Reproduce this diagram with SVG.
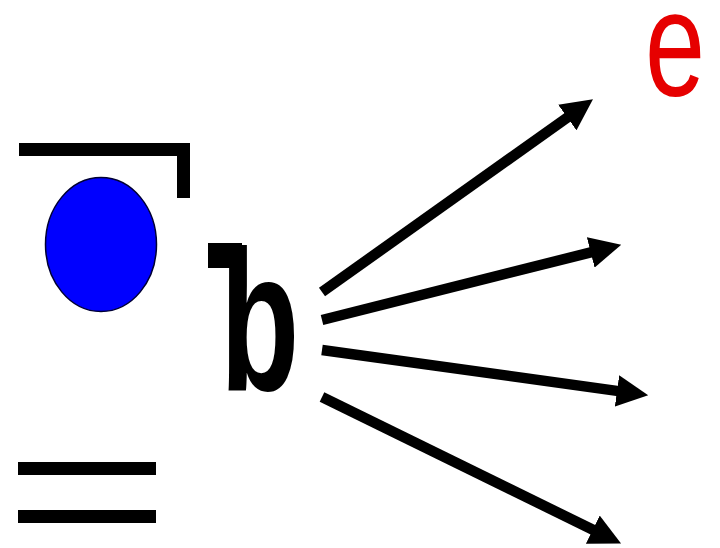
<svg xmlns="http://www.w3.org/2000/svg" width="720" height="548" viewBox="0 0 720 548">
<style>
.bar{stroke:#000;stroke-width:13;fill:none}
.arr{stroke:#000;stroke-width:10.5;fill:none;marker-end:url(#head)}
.glyph{font-family:"Liberation Sans",Arial,sans-serif}
</style>
<defs>
<marker id="head" markerUnits="strokeWidth" markerWidth="3" markerHeight="3" refX="0.5" refY="1.5" orient="auto" viewBox="0 0 3 3">
<path d="M0,0 L3,1.5 L0,3 z" fill="#000"/>
</marker>
</defs>
<rect width="720" height="548" fill="#fff"/>
<g id="bracket">
<path class="bar" d="M19,149.5 H183.5 V198" stroke-width="14"/>
</g>
<g id="ball">
<ellipse cx="101" cy="244.5" rx="55.5" ry="67" fill="#0000ff" stroke="#000033" stroke-width="1.5"/>
</g>
<g id="bars">
<line class="bar" x1="18" y1="468.5" x2="156" y2="468.5"/>
<line class="bar" x1="18" y1="516.5" x2="156" y2="516.5"/>
</g>
<g id="b-node">
<rect x="208" y="243" width="34" height="25" fill="#000"/>
<text class="glyph" transform="translate(220,390) scale(0.65,1)" font-size="200" font-weight="bold" fill="#000">b</text>
</g>
<g id="e-node">
<text class="glyph" transform="translate(645,96) scale(0.72,1)" font-size="150" fill="#e60000">e</text>
</g>
<g id="connectors">
<line class="arr" x1="322" y1="292" x2="571.6" y2="114.5"/>
<line class="arr" x1="322" y1="320" x2="595.8" y2="251.1"/>
<line class="arr" x1="322" y1="350" x2="622.2" y2="391.6"/>
<line class="arr" x1="322" y1="397" x2="597.5" y2="532"/>
</g>
</svg>
